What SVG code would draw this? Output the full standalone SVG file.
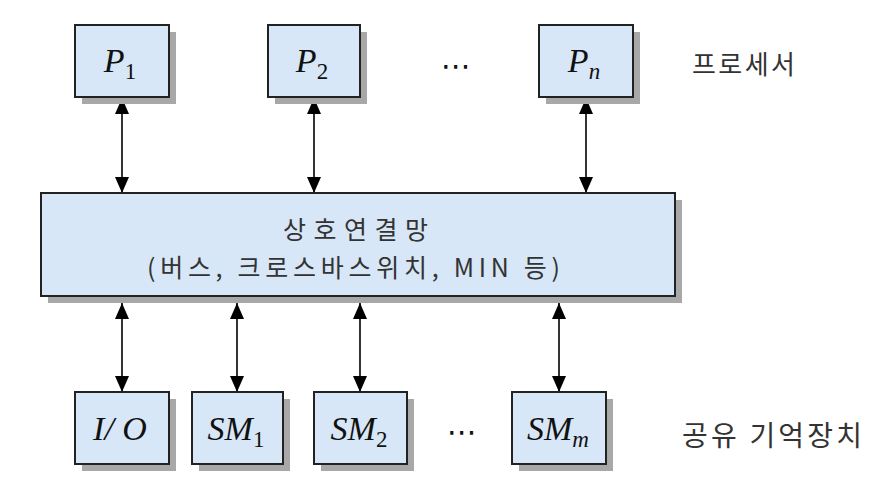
<svg xmlns="http://www.w3.org/2000/svg" width="874" height="496" viewBox="0 0 874 496">
<defs>
<marker id="ah" viewBox="0 0 16 14" refX="16" refY="7" markerWidth="16" markerHeight="14" markerUnits="userSpaceOnUse" orient="auto-start-reverse">
<path d="M0,0 L16,7 L0,14 Z" fill="#000"/>
</marker>
</defs>
<style>
.sh{fill:#a8a8a8}
.bx{fill:#d7e7f7;stroke:#222;stroke-width:2}
.m{font-family:"Liberation Serif",serif;font-style:italic;font-size:34px;fill:#111}
.s{font-size:23px;font-style:normal}
.si{font-size:23px}
.k{font-family:"Noto Sans CJK KR","Noto Sans",sans-serif;fill:#333}
.c{stroke:#000;stroke-width:1.6;fill:none;marker-start:url(#ah);marker-end:url(#ah)}
.d{font-family:"DejaVu Sans",sans-serif;font-size:30px;fill:#111}
</style>
<rect width="874" height="496" fill="#fff"/>
<g id="connectors">
<line class="c" x1="122" y1="98" x2="122" y2="193"/>
<line class="c" x1="314" y1="98" x2="314" y2="193"/>
<line class="c" x1="586" y1="98" x2="586" y2="193"/>
<line class="c" x1="122" y1="303" x2="122" y2="392"/>
<line class="c" x1="237" y1="303" x2="237" y2="392"/>
<line class="c" x1="360" y1="303" x2="360" y2="392"/>
<line class="c" x1="559" y1="303" x2="559" y2="392"/>
</g>
<g id="P1">
<rect class="sh" x="82" y="32" width="94" height="72"/>
<rect class="bx" x="75" y="25" width="94" height="72"/>
<text class="m" x="120" y="72" text-anchor="middle">P<tspan class="s" dy="7">1</tspan></text>
</g>
<g id="P2">
<rect class="sh" x="275" y="32" width="92" height="72"/>
<rect class="bx" x="268" y="25" width="92" height="72"/>
<text class="m" x="312" y="72" text-anchor="middle">P<tspan class="s" dy="7">2</tspan></text>
</g>
<g id="Pn">
<rect class="sh" x="546" y="32" width="94" height="72"/>
<rect class="bx" x="539" y="25" width="94" height="72"/>
<text class="m" x="584" y="72" text-anchor="middle">P<tspan class="si" dy="7">n</tspan></text>
</g>
<text class="d" x="456" y="76" text-anchor="middle">⋯</text>
<text class="k" x="692" y="74" font-size="26" textLength="103" lengthAdjust="spacing">프로세서</text>
<g id="network">
<rect class="sh" x="48" y="200" width="634" height="103"/>
<rect class="bx" x="41" y="193" width="634" height="103"/>
<text class="k" x="283" y="239" font-size="25" textLength="145" lengthAdjust="spacing">상호연결망</text>
<text class="k" x="147" y="277" font-size="25" textLength="413" lengthAdjust="spacing">(버스, 크로스바스위치, MIN 등)</text>
</g>
<g id="IO">
<rect class="sh" x="82" y="399" width="94" height="72"/>
<rect class="bx" x="75" y="392" width="94" height="72"/>
<text class="m" x="120" y="440" text-anchor="middle">I/ O</text>
</g>
<g id="SM1">
<rect class="sh" x="199" y="399" width="91" height="72"/>
<rect class="bx" x="192" y="392" width="91" height="72"/>
<text class="m" x="236" y="440" text-anchor="middle">SM<tspan class="s" dy="7">1</tspan></text>
</g>
<g id="SM2">
<rect class="sh" x="321" y="399" width="93" height="72"/>
<rect class="bx" x="314" y="392" width="93" height="72"/>
<text class="m" x="359" y="440" text-anchor="middle">SM<tspan class="s" dy="7">2</tspan></text>
</g>
<g id="SMm">
<rect class="sh" x="519" y="399" width="94" height="72"/>
<rect class="bx" x="512" y="392" width="94" height="72"/>
<text class="m" x="558" y="440" text-anchor="middle">SM<tspan class="si" dy="7">m</tspan></text>
</g>
<text class="d" x="462" y="442" text-anchor="middle">⋯</text>
<text class="k" x="682" y="446" font-size="28" textLength="180" lengthAdjust="spacing">공유 기억장치</text>
</svg>
